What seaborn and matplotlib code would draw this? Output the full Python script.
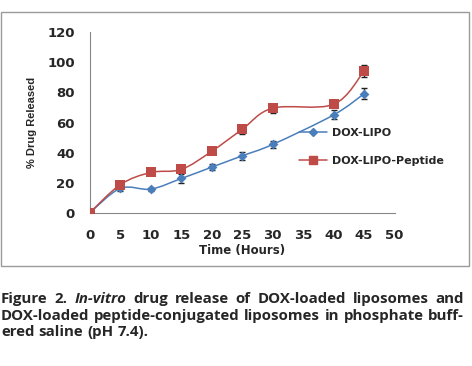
import numpy as np
import matplotlib
matplotlib.use('Agg')
import matplotlib.pyplot as plt
import seaborn as sns
from matplotlib.path import Path
from matplotlib.patches import PathPatch, Rectangle

# 1. Data
hours = [0, 5, 10, 15, 20, 25, 30, 40, 45]
lipo = [0.5, 16.5, 16, 23, 30.5, 38, 45.5, 65, 79]
lipo_err = [0, 2, 1, 3, 2, 2.5, 2.5, 3, 3.5]
pep = [0.5, 19, 27, 29, 41, 55.5, 69.5, 72, 94]
pep_err = [0, 1, 1.5, 2, 1.5, 3, 3, 2, 4]

blue = '#4a7ebb'
red = '#be4b48'


def smooth_path(x, y):
    # Excel-like smoothed line: cubic Bezier through the data points
    x = np.asarray(x, float)
    y = np.asarray(y, float)
    pts = np.column_stack([x, y])
    verts = [pts[0]]
    codes = [Path.MOVETO]
    n = len(pts)
    for i in range(n - 1):
        p0 = pts[i - 1] if i > 0 else pts[i]
        p1 = pts[i]
        p2 = pts[i + 1]
        p3 = pts[i + 2] if i + 2 < n else pts[i + 1]
        c1 = p1 + (p2 - p0) / 6
        c2 = p2 - (p3 - p1) / 6
        verts += [c1, c2, p2]
        codes += [Path.CURVE4] * 3
    return Path(verts, codes)


sns.set_style('white')
plt.rcParams['font.family'] = ['DejaVu Sans']

fig = plt.figure(figsize=(4.72, 3.66), dpi=100)
ax = fig.add_axes([90 / 472, 1 - 213.3 / 366, 304.5 / 472, 181.6 / 366])

# frame around chart area
fig.patches.append(Rectangle((1 / 472, 1 - 266 / 366), 467.5 / 472, 254 / 366,
                             transform=fig.transFigure, fill=False,
                             edgecolor='#9a9a9a', linewidth=1.0))

for yv, err, col, mk, ms, lab in [(lipo, lipo_err, blue, 'D', 5, 'DOX-LIPO'),
                                  (pep, pep_err, red, 's', 7, 'DOX-LIPO-Peptide')]:
    ax.add_patch(PathPatch(smooth_path(hours, yv), facecolor='none',
                           edgecolor=col, linewidth=1.1, zorder=2))
    ax.errorbar(hours, yv, yerr=err, fmt='none', ecolor='#222222',
                elinewidth=1.0, capsize=2.5, capthick=1.0, zorder=3)
    sns.scatterplot(x=hours, y=yv, marker=mk, s=ms ** 2, color=col,
                    edgecolor=col, linewidth=0, ax=ax, zorder=4)
    ax.plot([], [], color=col, marker=mk, markersize=ms - 1, linewidth=1.1,
            label=lab)

ax.set_xlim(0, 50)
ax.set_ylim(0, 120)
ax.set_xticks(range(0, 51, 5))
ax.set_yticks(range(0, 121, 20))
ax.tick_params(axis='both', labelsize=9.5, length=3, width=0.8,
               color='#888888', direction='out', pad=8)
for t in ax.get_xticklabels() + ax.get_yticklabels():
    t.set_fontweight('bold')
for s in ['top', 'right']:
    ax.spines[s].set_visible(False)
for s in ['left', 'bottom']:
    ax.spines[s].set_color('#888888')
    ax.spines[s].set_linewidth(0.8)

ax.set_ylabel('% Drug Released', fontsize=8, fontweight='bold', labelpad=7,
              family='Liberation Sans')
ax.set_xlabel('Time (Hours)', fontsize=8.5, fontweight='bold', labelpad=2)

ax.legend(loc='center left', bbox_to_anchor=(0.655, 0.365), frameon=False,
          prop={'weight': 'bold', 'size': 8},
          handlelength=2.5, labelspacing=1.6, handletextpad=0.4)

# caption, justified lines
cap_lines = [
    [('Figure', 'normal'), ('2.', 'normal'), ('In-vitro', 'italic'), ('drug', 'normal'),
     ('release', 'normal'), ('of', 'normal'), ('DOX-loaded', 'normal'),
     ('liposomes', 'normal'), ('and', 'normal')],
    [('DOX-loaded', 'normal'), ('peptide-conjugated', 'normal'), ('liposomes', 'normal'),
     ('in', 'normal'), ('phosphate', 'normal'), ('buff-', 'normal')],
    [('ered', 'normal'), ('saline', 'normal'), ('(pH', 'normal'), ('7.4).', 'normal')],
]
cap_y = [299, 316, 332]
left_px, right_px = 1, 464
fig.canvas.draw()
renderer = fig.canvas.get_renderer()
for li, (words, ypx) in enumerate(zip(cap_lines, cap_y)):
    texts = []
    for w, style in words:
        t = fig.text(0, 1 - ypx / 366, w, fontsize=10.8, fontweight='bold',
                     fontstyle=style, family='Open Sans', va='center', ha='left')
        texts.append(t)
    widths = [t.get_window_extent(renderer).width for t in texts]
    if li < len(cap_lines) - 1:
        gap = (right_px - left_px - sum(widths)) / (len(words) - 1)
    else:
        gap = 4.0
    x = left_px
    for t, w in zip(texts, widths):
        t.set_x(x / 472)
        x += w + gap

fig.savefig('out.png', dpi=100)
